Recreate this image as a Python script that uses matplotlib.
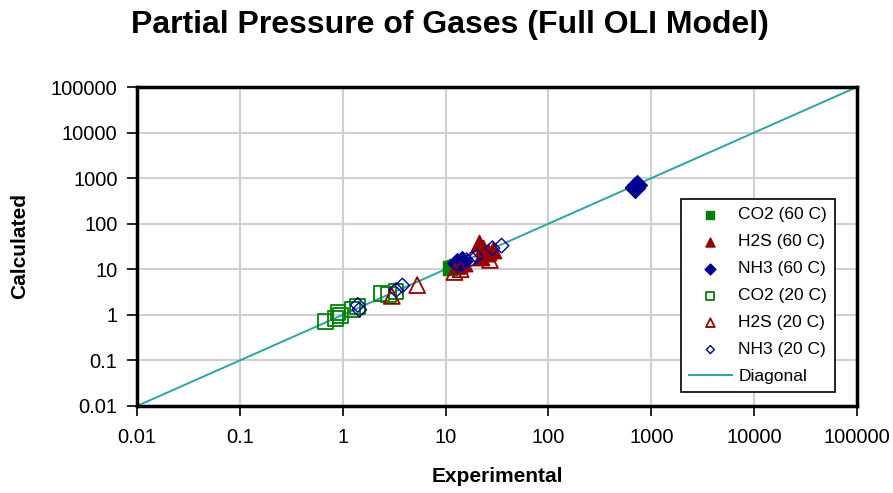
import matplotlib
matplotlib.use("Agg")
import matplotlib.pyplot as plt

plt.rcParams['font.family'] = ['Liberation Sans', 'DejaVu Sans']

title = "Partial Pressure of Gases (Full OLI Model)"
xlabel = "Experimental"
ylabel = "Calculated"
tick_vals = [0.01, 0.1, 1, 10, 100, 1000, 10000, 100000]
tick_labels = ["0.01", "0.1", "1", "10", "100", "1000", "10000", "100000"]

co2_60_x = [11.0, 12.0, 12.5, 13.0]
co2_60_y = [10.5, 11.5, 12.0, 11.0]

h2s_60_x = [21.0, 23.0, 26.0, 29.0, 22.0, 13.5, 15.0]
h2s_60_y = [38.0, 30.0, 24.0, 27.0, 19.0, 12.5, 14.0]

nh3_60_x = [13.0, 14.5, 700.0, 720.0, 690.0]
nh3_60_y = [13.5, 15.0, 640.0, 700.0, 600.0]

co2_20_x = [0.68, 0.85, 0.90, 0.95, 1.25, 1.40, 2.4, 2.8, 3.3]
co2_20_y = [0.72, 0.85, 1.15, 0.95, 1.30, 1.55, 2.9, 2.8, 3.2]

h2s_20_x = [3.0, 5.3, 12.2, 14.0, 27.0, 25.0]
h2s_20_y = [2.6, 4.5, 8.7, 10.0, 16.0, 22.0]

nh3_20_x = [1.4, 1.45, 3.3, 3.8, 12.8, 16.0, 18.0, 20.0, 28.5, 35.0]
nh3_20_y = [1.65, 1.3, 3.5, 4.4, 13.7, 15.8, 17.0, 19.0, 29.0, 33.0]

diag = [0.01, 100000]

green = "#008000"
red = "#990000"
navy = "#000090"
teal = "#2AA5A5"

fig = plt.figure(figsize=(8.93, 4.93), dpi=100)
ax = fig.add_axes([0.1534, 0.1765, 0.8063, 0.647])

ax.plot(diag, diag, color=teal, lw=1.4, label="Diagonal", zorder=2)
ax.scatter(co2_60_x, co2_60_y, marker='s', s=100, color=green, label="CO2 (60 C)", zorder=3)
ax.scatter(h2s_60_x, h2s_60_y, marker='^', s=140, color=red, label="H2S (60 C)", zorder=3)
ax.scatter(nh3_60_x, nh3_60_y, marker='D', s=100, color=navy, label="NH3 (60 C)", zorder=3)
ax.scatter(co2_20_x, co2_20_y, marker='s', s=115, facecolors='none', edgecolors=green, linewidths=1.3, label="CO2 (20 C)", zorder=3)
ax.scatter(h2s_20_x, h2s_20_y, marker='^', s=130, facecolors='none', edgecolors=red, linewidths=1.3, label="H2S (20 C)", zorder=3)
ax.scatter(nh3_20_x, nh3_20_y, marker='D', s=55, facecolors='none', edgecolors=navy, linewidths=1.0, label="NH3 (20 C)", zorder=3)

ax.set_xscale('log')
ax.set_yscale('log')
ax.set_xlim(0.01, 100000)
ax.set_ylim(0.01, 100000)
ax.set_xticks(tick_vals)
ax.set_xticklabels(tick_labels)
ax.set_yticks(tick_vals)
ax.set_yticklabels(tick_labels)
ax.minorticks_off()
ax.tick_params(axis='both', which='major', direction='out', length=7, width=1.2,
               labelsize=14.5, colors='black', pad=7)
ax.tick_params(axis='x', pad=9)
ax.grid(True, color='#d0d0d0', lw=1.5)
ax.set_axisbelow(True)
for s in ax.spines.values():
    s.set_linewidth(2.5)
    s.set_color('black')

fig.text(497 / 893, 1 - 477 / 493, xlabel, ha='center', va='center', fontsize=15, fontweight='bold')
fig.text(20 / 893, 1 - 246 / 493, ylabel, ha='center', va='center', fontsize=15,
         fontweight='bold', rotation=90)
fig.text(450 / 893, 1 - 25 / 493, title, ha='center', va='center', fontsize=23, fontweight='bold')

handles, labels = ax.get_legend_handles_labels()
order = [1, 2, 3, 4, 5, 6, 0]
leg = ax.legend([handles[i] for i in order], [labels[i] for i in order],
                loc='lower right', bbox_to_anchor=(0.969, 0.044), borderaxespad=0,
                fontsize=12.5, markerscale=0.55, frameon=True, fancybox=False,
                edgecolor='black', framealpha=1, borderpad=0.45, labelspacing=0.68,
                handlelength=2.5, handletextpad=0.35)
leg.get_frame().set_linewidth(1.2)

fig.savefig("out.png", dpi=100)
